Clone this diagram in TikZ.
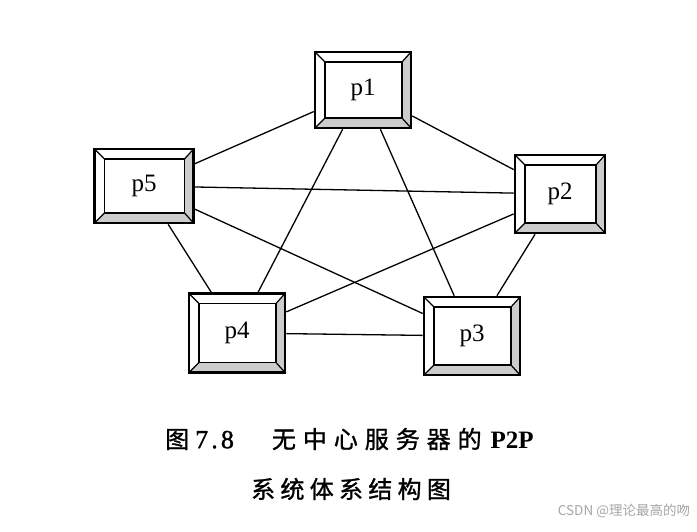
\documentclass[tikz,border=0pt]{standalone}
\usepackage{fontspec}
\setmainfont{Liberation Serif}
\newfontfamily\cjk[LetterSpace=29,FakeBold=1.2]{Noto Sans CJK SC}
\newfontfamily\cjkwide[LetterSpace=22,FakeBold=1.2]{Noto Sans CJK SC}
\newfontfamily\capnum[LetterSpace=12,FakeBold=1.2]{Liberation Serif}
\newfontfamily\marksans{Noto Sans CJK SC}
\usepackage{tikz}
\usetikzlibrary{calc}

\begin{document}
\begin{tikzpicture}[
  x=1pt, y=-1pt,
  peer/.style={draw, line width=2.6pt, fill=white, minimum width=96pt, minimum height=76pt,
    inner sep=0pt, font=\fontsize{25}{27}\selectfont,
    path picture={
      \coordinate (ppsw) at (path picture bounding box.south west);
      \coordinate (ppne) at (path picture bounding box.north east);
      \coordinate (ppse) at (ppsw -| ppne);
      \coordinate (ppnw) at (ppne -| ppsw);
      \coordinate (qqsw) at ([shift={(10pt,10pt)}]ppsw);
      \coordinate (qqne) at ([shift={(-9pt,-10pt)}]ppne);
      \coordinate (qqse) at (qqsw -| qqne);
      \coordinate (qqnw) at (qqne -| qqsw);
      \fill[gray!40] (ppsw) -- (ppse) -- (ppne) -- (qqne) -- (qqse) -- (qqsw) -- cycle;
      \draw[line width=1.8pt] (qqsw) rectangle (qqne);
      \draw[line width=1.2pt] (ppsw) -- (qqsw) (ppse) -- (qqse) (ppne) -- (qqne) (ppnw) -- (qqnw);
    }},
  link/.style={line width=1.3pt},
  caption/.style={inner sep=0pt, font=\fontsize{24}{26}\selectfont}]
  \useasboundingbox[fill=white] (0,0) rectangle (697,531);
  % peers
  \node[peer] (p1) at (363,90)  {p1};
  \node[peer, minimum width=90pt, minimum height=78pt] (p2) at (560,194) {p2};
  \node[peer, minimum height=78pt] (p3) at (472,336) {p3};
  \node[peer, minimum height=79pt] (p4) at (237,333) {p4};
  \node[peer, minimum width=99pt, minimum height=74pt] (p5) at (144,186) {p5};
  % every peer talks to every other peer
  \foreach \a/\b in {p1/p2,p1/p3,p1/p4,p1/p5,p2/p3,p2/p4,p2/p5,p3/p4,p3/p5,p4/p5}
    {\draw[link] (\a)--(\b);}
  % caption
  \node[caption, anchor=west] (cap1) at (165,439)
    {{\cjk 图}\hspace{6pt}{\capnum\fontsize{26}{28}\selectfont 7.8}\hspace{38pt}{\cjk 无中心服务器的}\hspace{9pt}{\bfseries\fontsize{25}{27}\selectfont P2P}};
  \node[caption, anchor=west] (cap2) at (251,489) {\cjkwide 系统体系结构图};
  \node[inner sep=0pt, text=gray!70, font=\marksans\fontsize{13.5}{16}\selectfont] (mark) at (624,511) {CSDN @理论最高的吻};
\end{tikzpicture}
\end{document}
